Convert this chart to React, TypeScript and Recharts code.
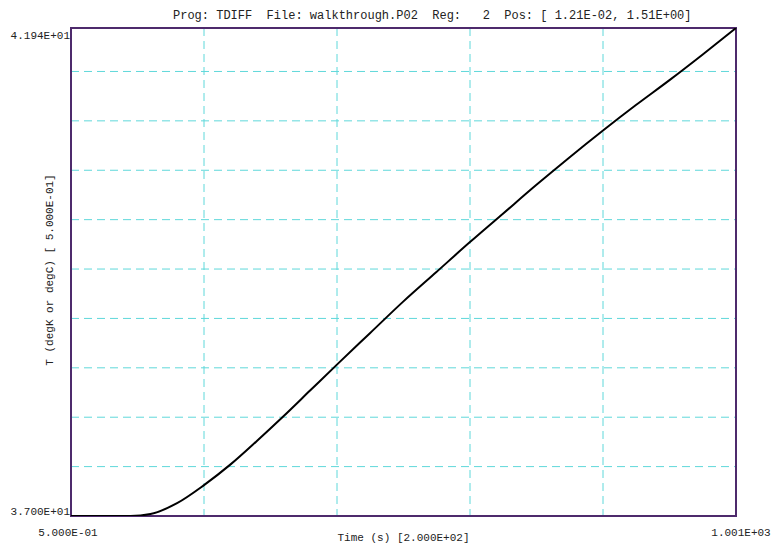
import React from 'react';
import {
    LineChart,
    Line,
    XAxis,
    YAxis,
    CartesianGrid,
    ReferenceArea
} from 'recharts';

// time (s) and temperature
const times = [0.5, 50, 90, 120, 160, 200, 240, 280, 320, 360, 400, 450, 500, 550, 600, 650, 700, 750, 800, 850, 900, 950, 1000.5];
const temps = [37.0, 37.0, 37.0, 37.02, 37.13, 37.31, 37.52, 37.76, 38.01, 38.27, 38.53, 38.85, 39.17, 39.47, 39.77, 40.06, 40.35, 40.63, 40.9, 41.16, 41.41, 41.67, 41.94];

const xTicks = [0.5, 200.5, 400.5, 600.5, 800.5, 1000.5];
const yTicks = [37, 37.5, 38, 38.5, 39, 39.5, 40, 40.5, 41, 41.5, 41.94];

const xTickLabels = ['5.000E-01', '', '', '', '', '1.001E+03'];
const yTickLabels = ['3.700E+01', '', '', '', '', '', '', '', '', '', '4.194E+01'];

const title = 'Prog: TDIFF  File: walkthrough.P02  Reg:   2  Pos: [ 1.21E-02, 1.51E+00]';
const xTitle = 'Time (s) [2.000E+02]';
const yTitle = 'T (degK or degC) [ 5.000E-01]';

const data = times.map((t, i) => ({ t, T: temps[i] }));

const mono = '"Liberation Mono", "DejaVu Sans Mono", monospace';

// eslint-disable-next-line @typescript-eslint/no-explicit-any
const renderXTick = (props: any) => {
    const { x, y, index } = props;
    const text = xTickLabels[index];
    if (!text) return <g />;
    const dx = index === 0 ? -3 : 5;
    return (
        <text x={x + dx} y={y + 19.5} textAnchor="middle" fontFamily={mono} fontSize={11} fill="#222">
            {text}
        </text>
    );
};

// eslint-disable-next-line @typescript-eslint/no-explicit-any
const renderYTick = (props: any) => {
    const { x, y, index } = props;
    const text = yTickLabels[index];
    if (!text) return <g />;
    const dy = index === 0 ? -1.5 : 10.5;
    return (
        <text x={x - 1} y={y + dy} textAnchor="end" fontFamily={mono} fontSize={11} fill="#222">
            {text}
        </text>
    );
};

const App = () => {
    return (
        <div style={{ position: 'absolute', left: 0, top: 0, width: 774, height: 546, background: '#fff' }}>
            <LineChart
                width={774}
                height={546}
                data={data}
                margin={{ top: 28, right: 38, bottom: 0, left: 0 }}
            >
                <CartesianGrid stroke="#5fd8da" strokeDasharray="8 5" strokeWidth={1} />
                <XAxis
                    dataKey="t"
                    type="number"
                    domain={[0.5, 1000.5]}
                    ticks={xTicks}
                    height={30}
                    tickSize={0}
                    tickMargin={0}
                    axisLine={false}
                    tickLine={false}
                    tick={renderXTick}
                    interval={0}
                />
                <YAxis
                    type="number"
                    domain={[37, 41.94]}
                    ticks={yTicks}
                    width={71}
                    tickSize={0}
                    tickMargin={0}
                    axisLine={false}
                    tickLine={false}
                    tick={renderYTick}
                    interval={0}
                    allowDataOverflow
                />
                <Line
                    type="monotone"
                    dataKey="T"
                    stroke="#000"
                    strokeWidth={2}
                    dot={false}
                    isAnimationActive={false}
                />
                <ReferenceArea
                    x1={0.5}
                    x2={1000.5}
                    y1={37}
                    y2={41.94}
                    fill="none"
                    fillOpacity={0}
                    stroke="#4e2a6c"
                    strokeWidth={2}
                    ifOverflow="visible"
                />
            </LineChart>
            <svg
                width={774}
                height={546}
                style={{ position: 'absolute', left: 0, top: 0, pointerEvents: 'none' }}
            >
                <text x={173} y={19} fontFamily={mono} fontSize={12} fill="#222" style={{ whiteSpace: 'pre' }}>
                    {title}
                </text>
                <text x={403.5} y={540.5} textAnchor="middle" fontFamily={mono} fontSize={11} fill="#222">
                    {xTitle}
                </text>
                <text
                    x={0}
                    y={0}
                    transform="translate(53 270) rotate(-90)"
                    textAnchor="middle"
                    fontFamily={mono}
                    fontSize={11}
                    fill="#222"
                >
                    {yTitle}
                </text>
            </svg>
        </div>
    );
};

export default App;
